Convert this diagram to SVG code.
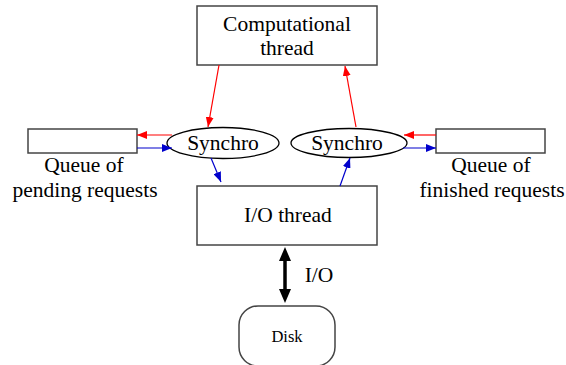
<svg xmlns="http://www.w3.org/2000/svg" width="566" height="365" viewBox="0 0 566 365">
<style>
.box{fill:#fff;stroke:#444;stroke-width:1.5}
.ell{fill:#fff;stroke:#000;stroke-width:1.3}
.t{font-family:"Liberation Serif","Times New Roman",serif;font-size:21.5px;fill:#000;text-anchor:middle}
.s{font-family:"Liberation Serif","Times New Roman",serif;font-size:16.5px;fill:#000;text-anchor:middle}
.r{stroke:#f00;stroke-width:1.2;fill:none;marker-end:url(#ar)}
.b{stroke:#00c;stroke-width:1.2;fill:none;marker-end:url(#ab)}
</style>
<defs>
<marker id="ar" viewBox="0 0 10 8" refX="10" refY="4" markerWidth="10" markerHeight="8" markerUnits="userSpaceOnUse" orient="auto"><path d="M0,0L10,4L0,8z" fill="#f00"/></marker>
<marker id="ab" viewBox="0 0 10 8" refX="10" refY="4" markerWidth="10" markerHeight="8" markerUnits="userSpaceOnUse" orient="auto"><path d="M0,0L10,4L0,8z" fill="#00c"/></marker>
</defs>
<g id="computational">
<rect class="box" x="197" y="6" width="180" height="59"/>
<text class="t" x="287" y="31">Computational</text>
<text class="t" x="287" y="55">thread</text>
</g>
<g id="io-thread">
<rect class="box" x="197" y="186" width="180" height="59"/>
<text class="t" x="288" y="222">I/O thread</text>
</g>
<g id="disk">
<rect class="box" x="239" y="306" width="96" height="60" rx="19" ry="19"/>
<text class="s" x="287" y="342">Disk</text>
</g>
<g id="queue-pending">
<rect class="box" x="28" y="129" width="109" height="24"/>
<text class="t" x="84" y="172">Queue of</text>
<text class="t" x="85" y="197">pending requests</text>
</g>
<g id="queue-finished">
<rect class="box" x="436" y="129" width="109" height="24"/>
<text class="t" x="491" y="172">Queue of</text>
<text class="t" x="492" y="197">finished requests</text>
</g>
<g id="synchro-left">
<ellipse class="ell" cx="223" cy="143" rx="56" ry="15.5"/>
<text class="t" x="223" y="150">Synchro</text>
</g>
<g id="synchro-right">
<ellipse class="ell" cx="349" cy="143" rx="58" ry="14.5"/>
<text class="t" x="347" y="150">Synchro</text>
</g>
<g id="connectors">
<line class="r" x1="219" y1="65" x2="208" y2="127"/>
<line class="r" x1="356" y1="127" x2="345" y2="66"/>
<line class="r" x1="172" y1="135" x2="137" y2="135"/>
<line class="b" x1="137" y1="148" x2="172" y2="148"/>
<line class="b" x1="211" y1="158" x2="221" y2="182"/>
<line class="b" x1="340" y1="186" x2="350" y2="158"/>
<line class="r" x1="436" y1="135" x2="404" y2="135"/>
<line class="b" x1="403" y1="148" x2="436" y2="148"/>
<line x1="285" y1="260" x2="285" y2="290" stroke="#000" stroke-width="3.5"/>
<path d="M285,247L279,261L291,261z M285,303L279,289L291,289z" fill="#000"/>
<text class="t" x="319" y="282">I/O</text>
</g>
</svg>
